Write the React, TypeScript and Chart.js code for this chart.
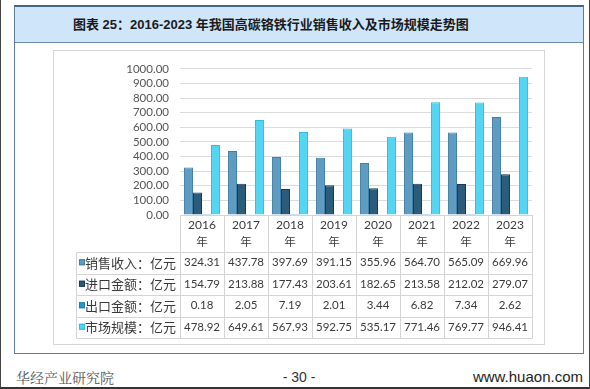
import React, { useEffect, useRef } from "react";
import { Chart, registerables } from "chart.js";

Chart.register(...registerables);

const years = ["2016", "2017", "2018", "2019", "2020", "2021", "2022", "2023"];
const yearSuffix = "年";
const seriesNames = ["销售收入：亿元", "进口金额：亿元", "出口金额：亿元", "市场规模：亿元"];
const salesRevenue = [324.31, 437.78, 397.69, 391.15, 355.96, 564.7, 565.09, 669.96];
const importAmount = [154.79, 213.88, 177.43, 203.61, 182.65, 213.58, 212.02, 279.07];
const exportAmount = [0.18, 2.05, 7.19, 2.01, 3.44, 6.82, 7.34, 2.62];
const marketSize = [478.92, 649.61, 567.93, 592.75, 535.17, 771.46, 769.77, 946.41];
const yMin = 0;
const yMax = 1000;
const yStep = 100;

const titleText = "图表 25：2016-2023 年我国高碳铬铁行业销售收入及市场规模走势图";
const footerLeft = "华经产业研究院";
const footerMid = "- 30 -";
const footerRight = "www.huaon.com";

const fills = ["#5e9dc1", "#2c5c7c", "#2b96cb", "#52d6f4"];
const borders = ["#3f7fa4", "#173a52", "#1c7eb0", "#2fbde2"];

const tablePlugin = {
  id: "dataTable",
  afterDraw(chart: any) {
    const { ctx, chartArea, scales } = chart;
    const x = scales.x;
    const n = years.length;
    const top = chartArea.bottom;
    const headerH = 37;
    const rowH = 21.5;
    const half = (x.getPixelForValue(1) - x.getPixelForValue(0)) / 2;
    const left = x.getPixelForValue(0) - half;
    const right = x.getPixelForValue(n - 1) + half;
    const labelLeft = 22;
    const bottom = top + headerH + rowH * 4;
    const crisp = (v: number) => Math.round(v) + 0.5;

    ctx.save();
    ctx.strokeStyle = "#d4d4d4";
    ctx.lineWidth = 1;
    ctx.beginPath();
    for (let i = 0; i <= n; i++) {
      const bx = crisp(left + i * 2 * half);
      ctx.moveTo(bx, top);
      ctx.lineTo(bx, crisp(bottom));
    }
    ctx.moveTo(crisp(labelLeft), crisp(top + headerH));
    ctx.lineTo(crisp(labelLeft), crisp(bottom));
    for (let r = 0; r <= 4; r++) {
      const y = crisp(top + headerH + r * rowH);
      ctx.moveTo(crisp(labelLeft), y);
      ctx.lineTo(crisp(right), y);
    }
    ctx.stroke();

    ctx.fillStyle = "#3a3a3a";
    ctx.textAlign = "center";
    ctx.textBaseline = "middle";
    for (let i = 0; i < n; i++) {
      const cx = x.getPixelForValue(i);
      ctx.font = "12px Lato, 'Liberation Sans', sans-serif";
      ctx.fillText(years[i], cx, top + 10);
      ctx.font = "11.5px 'Noto Sans CJK SC', sans-serif";
      ctx.fillText(yearSuffix, cx, top + 27);
    }

    chart.data.datasets.forEach((ds: any, r: number) => {
      const cy = top + headerH + r * rowH + rowH / 2;
      ctx.fillStyle = fills[r];
      ctx.fillRect(labelLeft + 3, cy - 3.5, 6, 6);
      ctx.strokeStyle = borders[r];
      ctx.strokeRect(labelLeft + 3.5, cy - 3, 5, 5);
      ctx.fillStyle = "#3a3a3a";
      ctx.textAlign = "left";
      ctx.font = "13px 'Noto Sans CJK SC', sans-serif";
      ctx.fillText(seriesNames[r], labelLeft + 9, cy);
      ctx.textAlign = "center";
      ctx.font = "11.5px Lato, 'Liberation Sans', sans-serif";
      ds.data.forEach((v: number, i: number) => {
        ctx.fillText(v.toFixed(2), x.getPixelForValue(i), cy);
      });
    });
    ctx.restore();
  },
};

function ChartCanvas() {
  const ref = useRef<HTMLCanvasElement | null>(null);
  useEffect(() => {
    if (!ref.current) return;
    const series = [salesRevenue, importAmount, exportAmount, marketSize];
    const chart = new Chart(ref.current, {
      type: "bar",
      data: {
        labels: years,
        datasets: series.map((d, i) => ({
          label: seriesNames[i],
          data: d,
          backgroundColor: fills[i],
          borderColor: borders[i],
          borderWidth: 1,
          categoryPercentage: 0.82,
          barPercentage: 1.0,
        })),
      },
      options: {
        animation: false,
        responsive: false,
        maintainAspectRatio: false,
        layout: { padding: { left: 0, top: 14, right: 12, bottom: 6 } },
        plugins: { legend: { display: false }, tooltip: { enabled: false } },
        scales: {
          x: {
            type: "category",
            offset: true,
            grid: { display: false },
            ticks: { display: false },
            border: { display: true, color: "#d4d4d4" },
            afterFit: (s: any) => {
              s.height = 123;
            },
          },
          y: {
            min: yMin,
            max: yMax,
            ticks: {
              stepSize: yStep,
              autoSkip: false,
              padding: 11,
              color: "#555555",
              font: { family: "Lato, 'Liberation Sans', sans-serif", size: 11.5 },
              callback: (v: any) => Number(v).toFixed(2),
            },
            grid: { color: "#dcdcdc", drawTicks: false },
            border: { display: false },
            afterFit: (s: any) => {
              s.width = 126;
            },
          },
        },
      },
      plugins: [tablePlugin],
    });
    return () => chart.destroy();
  }, []);
  return <canvas ref={ref} width={490} height={293} style={{ display: "block" }} />;
}

export default function App() {
  return (
    <div
      style={{
        position: "absolute",
        left: 0,
        top: 0,
        width: 590,
        height: 389,
        background: "#ffffff",
        overflow: "hidden",
        boxSizing: "border-box",
        borderLeft: "1px solid #444",
        borderRight: "1px solid #444",
        borderBottom: "2px solid #333",
      }}
    >
      <div
        style={{
          position: "absolute",
          left: 13,
          top: 5,
          width: 570,
          height: 349,
          boxSizing: "border-box",
          borderTop: "2px solid #42668a",
          borderLeft: "1px solid #5a7ea2",
          borderRight: "1px solid #5a7ea2",
          borderBottom: "1px solid #5a7ea2",
        }}
      />
      <div
        style={{
          position: "absolute",
          left: 14,
          top: 7,
          width: 568,
          height: 35,
          background: "#cfe6fa",
          borderBottom: "1px solid #6a8bab",
        }}
      />
      <div
        style={{
          position: "absolute",
          left: 72,
          top: 16,
          height: 18,
          lineHeight: "18px",
          whiteSpace: "nowrap",
          fontFamily: "'Liberation Sans', 'Noto Sans CJK SC', sans-serif",
          fontWeight: "bold",
          fontSize: 13,
          color: "#1a1a1a",
        }}
      >
        {titleText}
      </div>
      <div
        style={{
          position: "absolute",
          left: 52,
          top: 50,
          width: 492,
          height: 295,
          boxSizing: "border-box",
          border: "1px solid #d6d6d6",
        }}
      >
        <ChartCanvas />
      </div>
      <div
        style={{
          position: "absolute",
          left: 15,
          top: 368,
          lineHeight: "18px",
          fontFamily: "'Noto Serif CJK SC', serif",
          fontSize: 14,
          color: "#555",
          whiteSpace: "nowrap",
        }}
      >
        {footerLeft}
      </div>
      <div
        style={{
          position: "absolute",
          left: 270,
          width: 56,
          textAlign: "center",
          top: 368,
          lineHeight: "18px",
          fontFamily: "'Liberation Sans', sans-serif",
          fontSize: 14,
          color: "#333",
          whiteSpace: "nowrap",
        }}
      >
        {footerMid}
      </div>
      <div
        style={{
          position: "absolute",
          right: 6,
          top: 368,
          lineHeight: "18px",
          fontFamily: "'Liberation Sans', sans-serif",
          fontSize: 15,
          color: "#222",
          whiteSpace: "nowrap",
        }}
      >
        {footerRight}
      </div>
    </div>
  );
}
